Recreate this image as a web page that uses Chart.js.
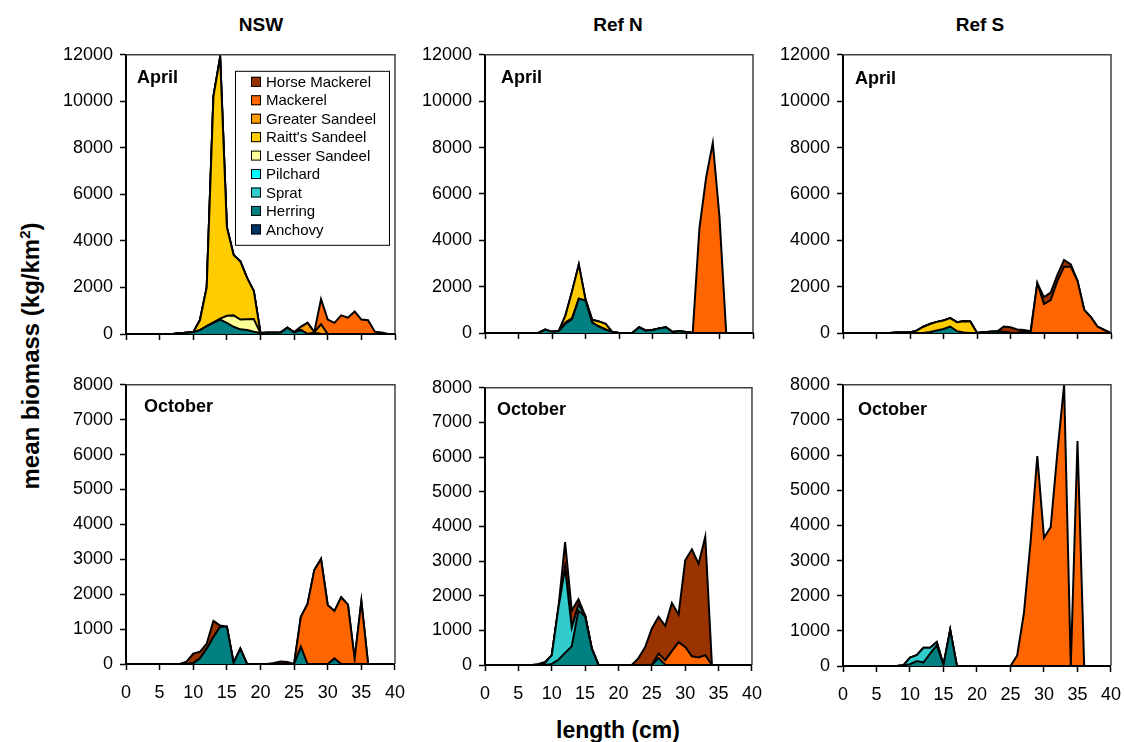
<!DOCTYPE html>
<html>
<head>
<meta charset="utf-8">
<title>Mean biomass by length</title>
<script src="https://cdn.jsdelivr.net/npm/chart.js@4.4.1/dist/chart.umd.min.js"></script>
<style>
  body { margin: 0; background: #fff; font-family: "Liberation Sans", Arial, sans-serif; }
  #page { position: relative; width: 1124px; height: 742px; overflow: hidden; background: #fff; }
  #page canvas { position: absolute; }
  .colTitle { position: absolute; top: 14px; font-weight: bold; font-size: 19px; transform: translateX(-50%); white-space: nowrap; }
  #xTitle { position: absolute; left: 618px; top: 717px; font-weight: bold; font-size: 23px; transform: translateX(-50%); white-space: nowrap; }
  #yTitle { position: absolute; left: 30px; top: 356px; font-weight: bold; font-size: 24px; white-space: nowrap;
            transform: translate(-50%, -50%) rotate(-90deg); }
  #yTitle sup { font-size: 15px; }
</style>
</head>
<body>
<div id="page">
  <div class="colTitle" style="left:261px">NSW</div>
  <div class="colTitle" style="left:618px">Ref N</div>
  <div class="colTitle" style="left:980px">Ref S</div>
  <div id="yTitle">mean biomass (kg/km<sup>2</sup>)</div>
  <div id="xTitle">length (cm)</div>
</div>
<script>
// length classes (cm)
const lengths = [0, 1, 2, 3, 4, 5, 6, 7, 8, 9, 10, 11, 12, 13, 14, 15, 16, 17, 18, 19, 20,
                 21, 22, 23, 24, 25, 26, 27, 28, 29, 30, 31, 32, 33, 34, 35, 36, 37, 38, 39, 40];

const aprilTicks = [0, 2000, 4000, 6000, 8000, 10000, 12000];
const octoberTicks = [0, 1000, 2000, 3000, 4000, 5000, 6000, 7000, 8000];

// legend order, top to bottom (stacking goes the other way)
const species = ['Horse Mackerel', 'Mackerel', 'Greater Sandeel', "Raitt's Sandeel", 'Lesser Sandeel',
                 'Pilchard', 'Sprat', 'Herring', 'Anchovy'];
const speciesColours = ['#993300', '#FF6600', '#FF9900', '#FFCC00', '#FFFF99',
                        '#00FFFF', '#33CCCC', '#008080', '#003366'];

// NSW - April
const nswAprHerring  = [0, 0, 0, 0, 0, 0, 0, 0, 30, 50, 70, 170, 340, 480, 620, 480, 310, 200, 170, 100, 40,
                        50, 50, 60, 270, 70, 170, 0, 30, 0, 0, 0, 0, 0, 0, 0, 0, 0, 0, 0, 0];
const nswAprLesser   = [0, 0, 0, 0, 0, 0, 0, 0, 0, 0, 0, 0, 0, 20, 40, 300, 490, 420, 460, 540, 0,
                        0, 0, 0, 0, 0, 0, 0, 0, 0, 0, 0, 0, 0, 0, 0, 0, 0, 0, 0, 0];
const nswAprRaitts   = [0, 0, 0, 0, 0, 0, 0, 0, 0, 0, 0, 430, 1660, 9700, 11240, 3810, 2600, 2500, 1780, 1210, 0,
                        0, 0, 0, 0, 0, 0, 0, 0, 0, 0, 0, 0, 0, 0, 0, 0, 0, 0, 0, 0];
const nswAprGreater  = [0, 0, 0, 0, 0, 0, 0, 0, 0, 0, 0, 0, 0, 0, 0, 0, 0, 0, 0, 0, 0,
                        0, 0, 0, 0, 0, 140, 480, 50, 420, 0, 0, 0, 0, 0, 0, 0, 0, 0, 0, 0];
const nswAprMackerel = [0, 0, 0, 0, 0, 0, 0, 0, 0, 0, 0, 0, 0, 0, 0, 0, 0, 0, 0, 0, 0,
                        0, 0, 0, 0, 0, 0, 0, 0, 1080, 620, 480, 800, 700, 970, 620, 590, 100, 70, 0, 0];

// Ref N - April
const refNAprHerring  = [0, 0, 0, 0, 0, 0, 0, 0, 0, 150, 50, 80, 400, 600, 1480, 1400, 450, 280, 150, 40, 0,
                         0, 0, 250, 100, 130, 200, 250, 40, 80, 40, 0, 0, 0, 0, 0, 0, 0, 0, 0, 0];
const refNAprSprat    = [0, 0, 0, 0, 0, 0, 0, 0, 0, 0, 0, 0, 50, 40, 0, 0, 0, 0, 0, 0, 0,
                         0, 0, 0, 0, 0, 0, 0, 0, 0, 0, 0, 0, 0, 0, 0, 0, 0, 0, 0, 0];
const refNAprRaitts   = [0, 0, 0, 0, 0, 0, 0, 0, 0, 0, 0, 0, 300, 1160, 1470, 50, 120, 220, 250, 0, 0,
                         0, 0, 0, 0, 0, 0, 0, 0, 0, 0, 0, 0, 0, 0, 0, 0, 0, 0, 0, 0];
const refNAprMackerel = [0, 0, 0, 0, 0, 0, 0, 0, 0, 0, 0, 0, 0, 0, 0, 0, 0, 0, 0, 0, 0,
                         0, 0, 0, 0, 0, 0, 0, 0, 0, 0, 0, 4500, 6700, 8200, 5000, 0, 0, 0, 0, 0];

// Ref S - April
const refSAprHerring  = [0, 0, 0, 0, 0, 0, 0, 0, 20, 20, 20, 0, 0, 40, 110, 170, 280, 80, 20, 0, 0,
                         30, 50, 60, 40, 0, 0, 40, 0, 0, 0, 0, 0, 0, 0, 0, 0, 0, 0, 0, 0];
const refSAprRaitts   = [0, 0, 0, 0, 0, 0, 0, 0, 0, 0, 0, 100, 270, 350, 370, 370, 360, 385, 490, 500, 0,
                         0, 0, 0, 0, 0, 0, 0, 0, 0, 0, 0, 0, 0, 0, 0, 0, 0, 0, 0, 0];
const refSAprMackerel = [0, 0, 0, 0, 0, 0, 0, 0, 0, 0, 0, 0, 0, 0, 0, 0, 0, 0, 0, 0, 0,
                         0, 0, 0, 0, 0, 0, 0, 0, 2150, 1250, 1420, 2250, 2860, 2860, 2250, 1000, 680, 270, 130, 0];
const refSAprHorse    = [0, 0, 0, 0, 0, 0, 0, 0, 0, 0, 0, 0, 0, 0, 0, 0, 0, 0, 0, 0, 0,
                         0, 0, 0, 240, 250, 150, 90, 80, 0, 300, 320, 260, 290, 100, 0, 0, 0, 0, 0, 0];

// NSW - October
const nswOctHerring  = [0, 0, 0, 0, 0, 0, 0, 0, 0, 0, 20, 160, 440, 770, 1070, 1070, 30, 440, 0, 0, 0,
                        0, 0, 0, 0, 0, 500, 0, 0, 0, 0, 160, 0, 0, 0, 0, 0, 0, 0, 0, 0];
const nswOctMackerel = [0, 0, 0, 0, 0, 0, 0, 0, 0, 0, 0, 0, 0, 0, 0, 0, 0, 0, 0, 0, 0,
                        0, 0, 0, 0, 0, 850, 1720, 2690, 3010, 1685, 1360, 1910, 1700, 150, 1800, 0, 0, 0, 0, 0];
const nswOctHorse    = [0, 0, 0, 0, 0, 0, 0, 0, 0, 65, 280, 190, 140, 465, 30, 0, 0, 0, 0, 0, 0,
                        0, 30, 70, 60, 0, 0, 0, 0, 0, 0, 0, 0, 0, 0, 0, 0, 0, 0, 0, 0];

// Ref N - October
const refNOctHerring  = [0, 0, 0, 0, 0, 0, 0, 0, 0, 0, 30, 150, 350, 540, 1570, 1400, 470, 0, 0, 0, 0,
                         0, 0, 0, 0, 0, 200, 0, 0, 0, 0, 0, 0, 0, 0, 0, 0, 0, 0, 0, 0];
const refNOctSprat    = [0, 0, 0, 0, 0, 0, 0, 0, 0, 60, 250, 1500, 2450, 540, 170, 30, 0, 0, 0, 0, 0,
                         0, 0, 0, 0, 0, 0, 0, 0, 0, 0, 0, 0, 0, 0, 0, 0, 0, 0, 0, 0];
const refNOctMackerel = [0, 0, 0, 0, 0, 0, 0, 0, 0, 0, 0, 0, 0, 0, 0, 0, 0, 0, 0, 0, 0,
                         0, 0, 0, 0, 0, 130, 140, 400, 660, 520, 250, 220, 280, 0, 0, 0, 0, 0, 0, 0];
const refNOctHorse    = [0, 0, 0, 0, 0, 0, 0, 0, 30, 30, 0, 0, 750, 490, 160, 0, 0, 0, 0, 0, 0,
                         0, 0, 200, 520, 1055, 1060, 990, 1390, 800, 2500, 3090, 2700, 3420, 0, 0, 0, 0, 0, 0, 0];

// Ref S - October
const refSOctHerring  = [0, 0, 0, 0, 0, 0, 0, 0, 0, 20, 50, 140, 100, 350, 590, 30, 1030, 0, 0, 0, 0,
                         0, 0, 0, 0, 0, 0, 0, 0, 0, 0, 0, 0, 0, 0, 0, 0, 0, 0, 0, 0];
const refSOctSprat    = [0, 0, 0, 0, 0, 0, 0, 0, 0, 0, 190, 170, 420, 170, 90, 0, 0, 0, 0, 0, 0,
                         0, 0, 0, 0, 0, 0, 0, 0, 0, 0, 0, 0, 0, 0, 0, 0, 0, 0, 0, 0];
const refSOctMackerel = [0, 0, 0, 0, 0, 0, 0, 0, 0, 0, 0, 0, 0, 0, 0, 0, 0, 0, 0, 0, 0,
                         0, 0, 0, 0, 0, 300, 1500, 3530, 5970, 3650, 3950, 6080, 8000, 0, 6400, 0, 0, 0, 0, 0];

// plot boxes are [left, top, right, bottom] on the page
const panels = [
  { box: [126, 49, 395, 334], month: 'April', monthAt: [11, 28], yTicks: aprilTicks, xLabels: false, legend: true,
    series: { 'Herring': nswAprHerring, 'Lesser Sandeel': nswAprLesser, "Raitt's Sandeel": nswAprRaitts,
              'Greater Sandeel': nswAprGreater, 'Mackerel': nswAprMackerel } },
  { box: [485, 49, 753, 333], month: 'April', monthAt: [16, 28], yTicks: aprilTicks, xLabels: false,
    series: { 'Herring': refNAprHerring, 'Sprat': refNAprSprat, "Raitt's Sandeel": refNAprRaitts,
              'Mackerel': refNAprMackerel } },
  { box: [843, 49, 1111, 333], month: 'April', monthAt: [12, 29], yTicks: aprilTicks, xLabels: false,
    series: { 'Herring': refSAprHerring, "Raitt's Sandeel": refSAprRaitts, 'Mackerel': refSAprMackerel,
              'Horse Mackerel': refSAprHorse } },
  { box: [126, 379, 395, 664], month: 'October', monthAt: [18, 27], yTicks: octoberTicks, xLabels: true,
    series: { 'Herring': nswOctHerring, 'Mackerel': nswOctMackerel, 'Horse Mackerel': nswOctHorse } },
  { box: [485, 382, 752, 665], month: 'October', monthAt: [12, 27], yTicks: octoberTicks, xLabels: true,
    series: { 'Herring': refNOctHerring, 'Sprat': refNOctSprat, 'Mackerel': refNOctMackerel,
              'Horse Mackerel': refNOctHorse } },
  { box: [843, 379, 1111, 666], month: 'October', monthAt: [15, 30], yTicks: octoberTicks, xLabels: true,
    series: { 'Herring': refSOctHerring, 'Sprat': refSOctSprat, 'Mackerel': refSOctMackerel } }
];

const FONT = '"Liberation Sans", Arial, sans-serif';
const PAD_L = 80, PAD_T = 12, PAD_R = 22, PAD_B = 40;

// frame, month label and (first panel only) the species key
const panelDecor = {
  id: 'panelDecor',
  afterDatasetsDraw(chart, args, opts) {
    const { ctx, chartArea: a } = chart;
    ctx.save();
    ctx.strokeStyle = '#404040';
    ctx.lineWidth = 1.5;
    ctx.beginPath();
    ctx.moveTo(a.left, a.top);
    ctx.lineTo(a.right, a.top);
    ctx.lineTo(a.right, a.bottom);
    ctx.stroke();

    ctx.fillStyle = '#000';
    ctx.font = 'bold 18px ' + FONT;
    ctx.textBaseline = 'alphabetic';
    ctx.fillText(opts.month, a.left + opts.at[0], a.top + opts.at[1]);

    if (opts.legend) {
      const x = a.left + 109, y = a.top + 16;
      ctx.fillStyle = '#fff';
      ctx.fillRect(x, y, 154, 174);
      ctx.strokeStyle = '#000';
      ctx.lineWidth = 1;
      ctx.strokeRect(x + 0.5, y + 0.5, 154, 174);
      ctx.font = '15px ' + FONT;
      ctx.textBaseline = 'middle';
      species.forEach((name, i) => {
        const cy = y + 11 + i * 18.45;
        ctx.fillStyle = speciesColours[i];
        ctx.fillRect(x + 16, cy - 5, 10, 10);
        ctx.strokeRect(x + 16.5, cy - 4.5, 9, 9);
        ctx.fillStyle = '#000';
        ctx.fillText(name, x + 31, cy + 1);
      });
    }
    ctx.restore();
  }
};

const page = document.getElementById('page');

panels.forEach(p => {
  const [l, t, r, b] = p.box;
  const canvas = document.createElement('canvas');
  canvas.width = (r - l) + PAD_L + PAD_R;
  canvas.height = (b - t) + PAD_T + PAD_B;
  canvas.style.left = (l - PAD_L) + 'px';
  canvas.style.top = (t - PAD_T) + 'px';
  page.appendChild(canvas);

  // bottom of the stack first
  const datasets = species.slice().reverse()
    .filter(name => p.series[name])
    .map((name, i) => ({
      label: name,
      data: p.series[name],
      backgroundColor: speciesColours[species.indexOf(name)],
      borderColor: '#000',
      borderWidth: 2,
      pointRadius: 0,
      tension: 0,
      fill: i === 0 ? 'origin' : '-1'
    }));

  new Chart(canvas, {
    type: 'line',
    data: { labels: lengths, datasets: datasets },
    options: {
      responsive: false,
      animation: false,
      devicePixelRatio: 1,
      layout: { padding: { left: 0, top: PAD_T, right: PAD_R, bottom: 0 } },
      plugins: {
        legend: { display: false },
        tooltip: { enabled: false },
        panelDecor: { month: p.month, at: p.monthAt, legend: !!p.legend }
      },
      scales: {
        x: {
          type: 'linear',
          min: lengths[0],
          max: lengths[lengths.length - 1],
          ticks: { stepSize: 5, display: p.xLabels, color: '#000', padding: 12, maxRotation: 0,
                   font: { family: FONT, size: 18 } },
          grid: { drawOnChartArea: false, drawTicks: true, tickLength: 6, color: '#000', tickWidth: 1.5 },
          border: { display: true, color: '#000', width: 2 },
          afterFit: s => { s.height = PAD_B; }
        },
        y: {
          stacked: true,
          min: p.yTicks[0],
          max: p.yTicks[p.yTicks.length - 1],
          ticks: { stepSize: p.yTicks[1] - p.yTicks[0], color: '#000', padding: 7,
                   format: { useGrouping: false },
                   font: { family: FONT, size: 18 } },
          grid: { drawOnChartArea: false, drawTicks: true, tickLength: 6, color: '#000', tickWidth: 1.5 },
          border: { display: true, color: '#000', width: 2 },
          afterFit: s => { s.width = PAD_L; }
        }
      }
    },
    plugins: [panelDecor]
  });
});
</script>
</body>
</html>
